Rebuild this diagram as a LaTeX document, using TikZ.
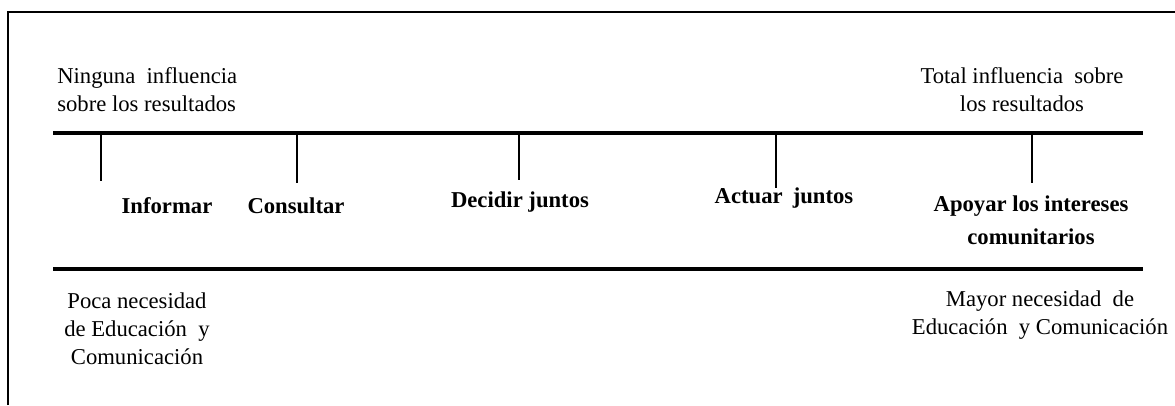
\documentclass[tikz,border=0pt]{standalone}
\usepackage{fontspec}
\setmainfont{Liberation Serif}

\tikzset{
	label/.style={font=\fontsize{17}{21}\selectfont, align=center, inner sep=0pt},
	stage/.style={label, font=\fontsize{17}{25}\selectfont\bfseries},
	scale line/.style={line width=3.5pt},
	tick/.style={line width=0.9pt}
}

\begin{document}
\begin{tikzpicture}[x=0.75pt, y=-0.75pt]
	\useasboundingbox (0,0) rectangle (1175,405);

	% frame
	\draw[line width=1pt] (8,405) -- (8,12) -- (1175,12);

	% the two scales
	\coordinate (tl) at (53,133);
	\coordinate (tr) at (1143,133);
	\coordinate (bl) at (53,269);
	\coordinate (br) at (1143,269);
	\draw[scale line] (tl) -- (tr);
	\draw[scale line] (bl) -- (br);

	% ticks
	\foreach \name/\x/\len in {inf/101/48, con/297/50, dec/519/47, act/776/55, apo/1032/50} {
		\coordinate (\name top) at (\x,133);
		\coordinate (\name end) at (\x,133+\len);
		\draw[tick] (\name top) -- (\name end);
	}

	% stages
	\node[stage]	(informar)	at (167,206)	{Informar};
	\node[stage]	(consultar)	at (296,206)	{Consultar};
	\node[stage]	(decidir)	at (520,202)	{Decidir juntos};
	\node[stage]	(actuar)	at (784,198)	{Actuar\hspace{0.2em} juntos};
	\node[stage]	(apoyar)	at (1031,220)	{Apoyar los intereses\\comunitarios};

	% ends of the scales
	\node[label, anchor=west, align=left]	(ninguna)	at (57,90)	{Ninguna\hspace{0.25em} influencia\\sobre los resultados};
	\node[label]	(total)		at (1022,90)	{Total influencia\hspace{0.25em} sobre\\los resultados};
	\node[label]	(poca)		at (137,329)	{Poca necesidad\\de Educación\hspace{0.25em} y\\Comunicación};
	\node[label]	(mayor)		at (1040,315)	{Mayor necesidad\hspace{0.25em} de\\Educación\hspace{0.25em} y Comunicación};
\end{tikzpicture}
\end{document}
